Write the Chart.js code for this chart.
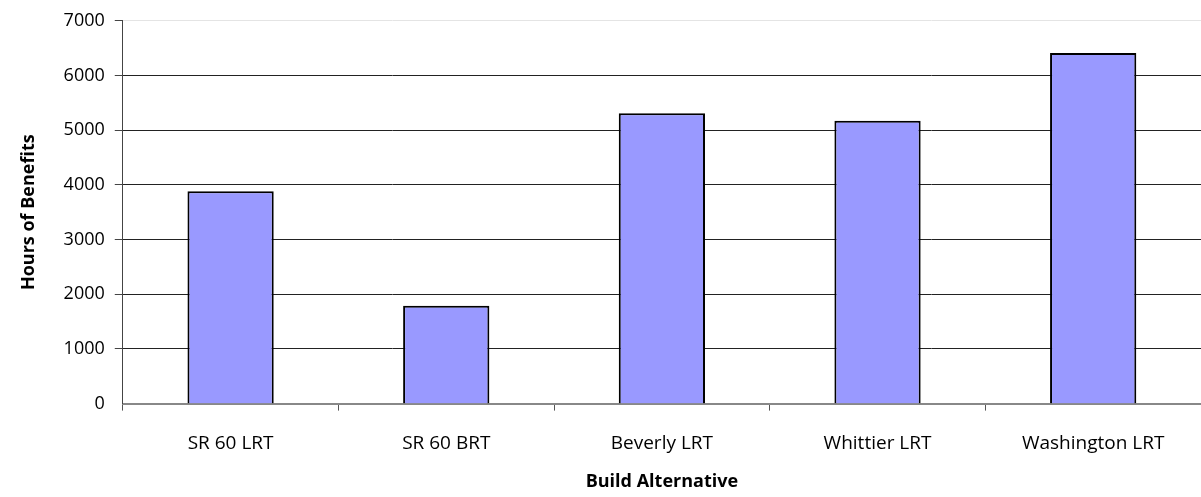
<!DOCTYPE html>
<html lang="en">
<head>
  <meta charset="UTF-8" />
  <title>Hours of Benefits by Build Alternative</title>
  <style>
    html, body {
      margin: 0;
      padding: 0;
      background: #fff;
    }
    .chart-box {
      width: 1201px;
      height: 497px;
    }
  </style>
</head>
<body>
  <div class="chart-box">
    <canvas id="benefitsChart"></canvas>
  </div>
  <script src="https://cdn.jsdelivr.net/npm/chart.js"></script>
  <script>
    const categories = ["SR 60 LRT", "SR 60 BRT", "Beverly LRT", "Whittier LRT", "Washington LRT"];
    const hours = [3885, 1790, 5310, 5170, 6410];
    const yTicks = [0, 1000, 2000, 3000, 4000, 5000, 6000, 7000];

    const xTickFont = { family: "'Open Sans', sans-serif", size: 19 };
    const yTickFont = { family: "'Open Sans', sans-serif", size: 18 };
    const titleFont = { family: "'Open Sans', sans-serif", size: 18, weight: "bold" };

    new Chart(document.getElementById("benefitsChart"), {
      type: "bar",
      data: {
        labels: categories,
        datasets: [
          {
            label: "Hours of Benefits",
            data: hours,
            backgroundColor: "#9999ff",
            borderColor: "#000",
            borderWidth: 2,
            barPercentage: 0.4,
            categoryPercentage: 1
          }
        ]
      },
      options: {
        responsive: true,
        maintainAspectRatio: false,
        animation: false,
        layout: { padding: { left: 18, right: 0, top: 11, bottom: 4 } },
        plugins: {
          legend: { display: false },
          tooltip: { enabled: false }
        },
        scales: {
          x: {
            offset: true,
            grid: {
              offset: true,
              drawOnChartArea: false,
              color: "#555",
              tickLength: 7
            },
            border: { color: "#888", width: 2 },
            ticks: { color: "#000", font: xTickFont, padding: 22 },
            title: {
              display: true,
              text: "Build Alternative",
              color: "#000",
              font: titleFont,
              padding: { top: -6, bottom: 0 }
            }
          },
          y: {
            min: 0,
            max: 7000,
            afterBuildTicks: (axis) => {
              axis.ticks = yTicks.map((v) => ({ value: v }));
            },
            grid: {
              color: (ctx) => (ctx.tick && ctx.tick.value === 7000 ? "#e4e4e4" : "#222"),
              lineWidth: (ctx) => (ctx.tick && ctx.tick.value === 0 ? 0 : 1),
              tickColor: "#444",
              tickLength: 8
            },
            border: { color: "#444", width: 1 },
            ticks: {
              color: "#000",
              font: yTickFont,
              padding: 10,
              callback: (v) => String(v)
            },
            title: {
              display: true,
              text: "Hours of Benefits",
              color: "#000",
              font: titleFont,
              padding: { top: 0, bottom: 14 }
            }
          }
        }
      }
    });
  </script>
</body>
</html>
